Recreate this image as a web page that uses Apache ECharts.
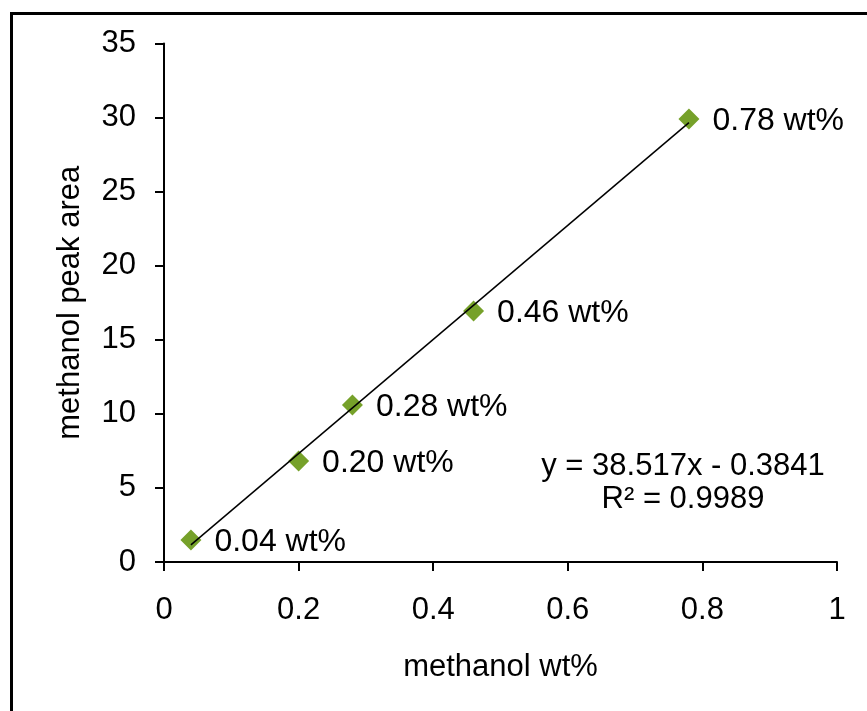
<!DOCTYPE html>
<html>
<head>
<meta charset="utf-8">
<script src="https://cdn.jsdelivr.net/npm/echarts@6/dist/echarts.min.js"></script>
<style>
  html, body { margin: 0; padding: 0; background: #fff; }
  #main { width: 867px; height: 711px; }
</style>
</head>
<body>
<div id="main"></div>
<script>
// calibration points
const wtPercent = [0.04, 0.20, 0.28, 0.46, 0.78];
const peakArea = [1.49, 6.82, 10.6, 16.95, 29.9];
const pointLabels = ['0.04 wt%', '0.20 wt%', '0.28 wt%', '0.46 wt%', '0.78 wt%'];

// linear trendline from the chart
const slope = 38.517;
const intercept = -0.3841;
const rSquared = '0.9989';

const xTicks = [0, 0.2, 0.4, 0.6, 0.8, 1];
const yTicks = [0, 5, 10, 15, 20, 25, 30, 35];

const font = 'Liberation Sans, Arial, sans-serif';
const fs = 31;

const xMin = Math.min(...wtPercent), xMax = Math.max(...wtPercent);
const trend = [[xMin, slope * xMin + intercept], [xMax, slope * xMax + intercept]];

const chart = echarts.init(document.getElementById('main'));
chart.setOption({
  animation: false,
  backgroundColor: '#fff',
  textStyle: { fontFamily: font },
  grid: { left: 164, right: 30, top: 43.5, bottom: 149 },
  xAxis: {
    type: 'value', min: xTicks[0], max: xTicks[xTicks.length - 1], interval: 0.2,
    name: 'methanol wt%', nameLocation: 'middle', nameGap: 90,
    nameTextStyle: { fontSize: fs, color: '#000', fontFamily: font },
    axisLine: { show: true, onZero: false, lineStyle: { color: '#000', width: 2 } },
    axisTick: { show: true, inside: false, length: 9, lineStyle: { color: '#000', width: 2 } },
    axisLabel: { fontSize: fs, color: '#000', margin: 33, fontFamily: font },
    splitLine: { show: false }
  },
  yAxis: {
    type: 'value', min: yTicks[0], max: yTicks[yTicks.length - 1], interval: 5,
    name: 'methanol peak area', nameLocation: 'middle', nameGap: 78,
    nameTextStyle: { fontSize: fs, color: '#000', fontFamily: font },
    axisLine: { show: true, lineStyle: { color: '#000', width: 2 } },
    axisTick: { show: true, inside: false, length: 9, lineStyle: { color: '#000', width: 2 } },
    axisLabel: { fontSize: fs, color: '#000', margin: 28, fontFamily: font },
    splitLine: { show: false }
  },
  graphic: [
    { type: 'line', shape: { x1: 11.5, y1: 13.5, x2: 11.5, y2: 711 }, style: { stroke: '#000', lineWidth: 3 } },
    { type: 'line', shape: { x1: 10, y1: 13.5, x2: 867, y2: 13.5 }, style: { stroke: '#000', lineWidth: 3 } },
    {
      type: 'text', x: 683, y: 450,
      style: {
        text: 'y = 38.517x - 0.3841\nR² = ' + rSquared,
        font: fs + 'px ' + font, fill: '#000', align: 'center', lineHeight: 33
      }
    }
  ],
  series: [
    {
      type: 'scatter',
      data: wtPercent.map((x, i) => [x, peakArea[i]]),
      symbol: 'diamond', symbolSize: 21,
      itemStyle: { color: '#76a12a', opacity: 1 },
      z: 2,
      label: {
        show: true, position: 'right', distance: 13, offset: [0, 2],
        fontSize: 32, color: '#000', fontFamily: font,
        formatter: p => pointLabels[p.dataIndex]
      }
    },
    {
      type: 'line',
      data: trend,
      symbol: 'none',
      lineStyle: { color: '#000', width: 1.5 },
      z: 3,
      silent: true
    }
  ]
});
</script>
</body>
</html>
